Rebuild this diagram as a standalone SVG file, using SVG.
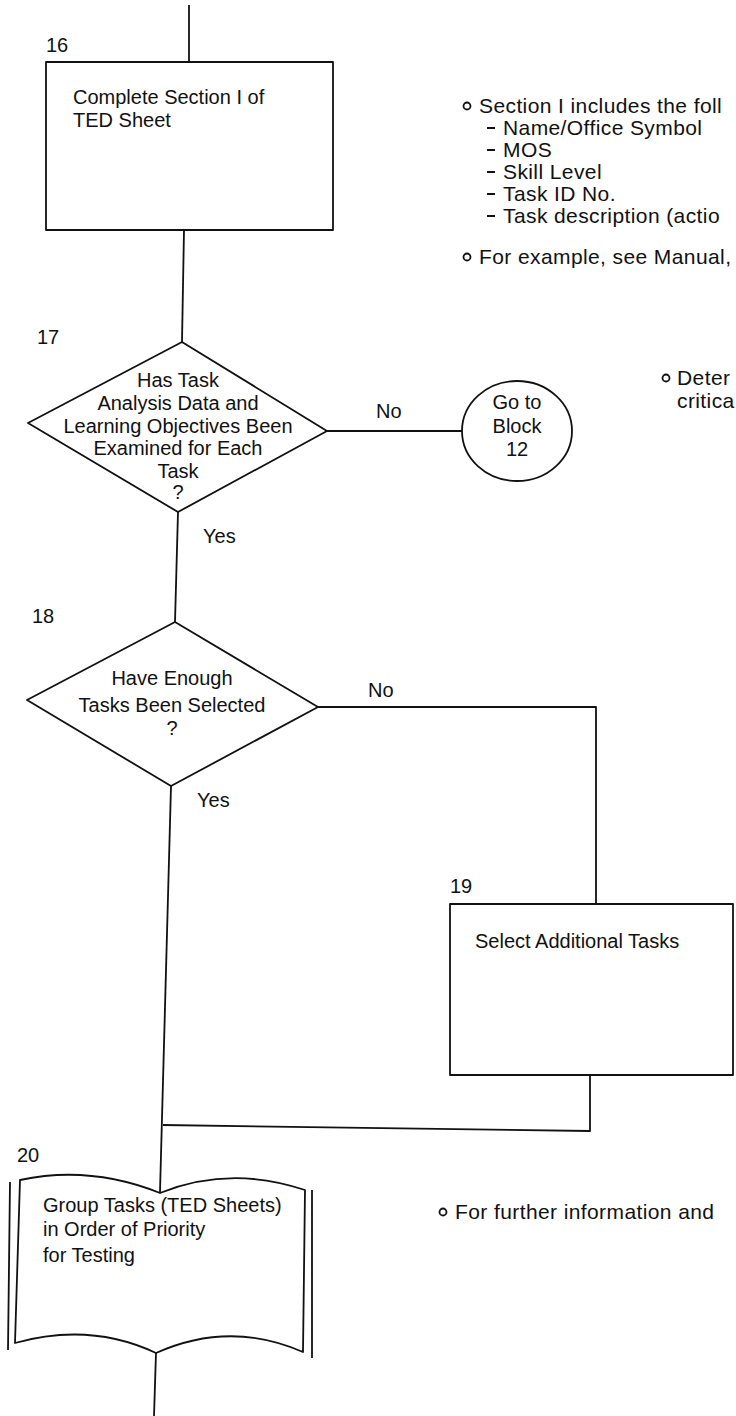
<svg xmlns="http://www.w3.org/2000/svg" width="736" height="1416" viewBox="0 0 736 1416">
<style>
.s{fill:none;stroke:#111;stroke-width:1.8;stroke-linejoin:round}
.w{fill:#fff;stroke:#111;stroke-width:1.8;stroke-linejoin:round}
text{font-family:"Liberation Sans",Arial,sans-serif;fill:#111;font-size:20px}
.c{text-anchor:middle}
.r{font-size:21px;letter-spacing:0.4px}
.b{fill:none;stroke:#111;stroke-width:1.8}
</style>
<rect width="736" height="1416" fill="#fff"/>
<g id="connectors">
<path class="s" d="M189,5 L189,62"/>
<path class="s" d="M184,230 L182,342"/>
<path class="s" d="M178,512 L175,622"/>
<path class="s" d="M327,431 L462,431"/>
<path class="s" d="M318,707 L596,707 L596,904"/>
<path class="s" d="M171,786 L160,1192"/>
<path class="s" d="M590,1075 L590,1131 L163,1125"/>
<path class="s" d="M156,1353 L154,1416"/>
<text x="376" y="418">No</text>
<text x="368" y="697">No</text>
<text x="203" y="543">Yes</text>
<text x="197" y="807">Yes</text>
</g>
<g id="node16">
<text x="46" y="52">16</text>
<rect class="w" x="46" y="62" width="287" height="168"/>
<text x="73" y="104">Complete Section I of</text>
<text x="73" y="127">TED Sheet</text>
</g>
<g id="node17">
<text x="37" y="344">17</text>
<polygon class="w" points="182,342 327,431 178,512 28,423"/>
<text class="c" x="178" y="387">Has Task</text>
<text class="c" x="178" y="410">Analysis Data and</text>
<text class="c" x="178" y="433">Learning Objectives Been</text>
<text class="c" x="178" y="455">Examined for Each</text>
<text class="c" x="178" y="478">Task</text>
<text class="c" x="178" y="499">?</text>
</g>
<g id="goto12">
<ellipse class="w" cx="517" cy="431" rx="55" ry="50"/>
<text class="c" x="517" y="409">Go to</text>
<text class="c" x="517" y="433">Block</text>
<text class="c" x="517" y="456">12</text>
</g>
<g id="node18">
<text x="32" y="623">18</text>
<polygon class="w" points="175,622 318,707 171,786 27,700"/>
<text class="c" x="172" y="685">Have Enough</text>
<text class="c" x="172" y="712">Tasks Been Selected</text>
<text class="c" x="172" y="735">?</text>
</g>
<g id="node19">
<text x="450" y="893">19</text>
<rect class="w" x="450" y="904" width="283" height="171"/>
<text x="475" y="948">Select Additional Tasks</text>
</g>
<g id="node20">
<text x="17" y="1162">20</text>
<path class="w" d="M20,1180 Q90,1165 160,1193 Q230,1165 305,1190 L303,1352 Q230,1320 156,1353 Q90,1322 15,1343 Z"/>
<path class="s" d="M10,1182 L8,1350 M312,1190 L312,1358"/>
<text x="43" y="1212">Group Tasks (TED Sheets)</text>
<text x="43" y="1236">in Order of Priority</text>
<text x="43" y="1262">for Testing</text>
</g>
<g id="notes">
<circle class="b" cx="467" cy="106" r="3.5"/>
<text class="r" x="479" y="113">Section I includes the foll</text>
<path class="s" d="M487,128 L495,128 M487,150 L495,150 M487,172 L495,172 M487,194 L495,194 M487,216 L495,216"/>
<text class="r" x="503" y="135">Name/Office Symbol</text>
<text class="r" x="503" y="157">MOS</text>
<text class="r" x="503" y="179">Skill Level</text>
<text class="r" x="503" y="201">Task ID No.</text>
<text class="r" x="503" y="223">Task description (actio</text>
<circle class="b" cx="467" cy="257" r="3.5"/>
<text class="r" x="479" y="264">For example, see Manual,</text>
<circle class="b" cx="666" cy="378" r="3.5" stroke-width="2.6"/>
<text class="r" x="677" y="385">Deter</text>
<text class="r" x="677" y="408">critica</text>
<circle class="b" cx="443" cy="1212" r="3.5" stroke-width="2.6"/>
<text class="r" x="455" y="1219">For further information and</text>
</g>
</svg>
